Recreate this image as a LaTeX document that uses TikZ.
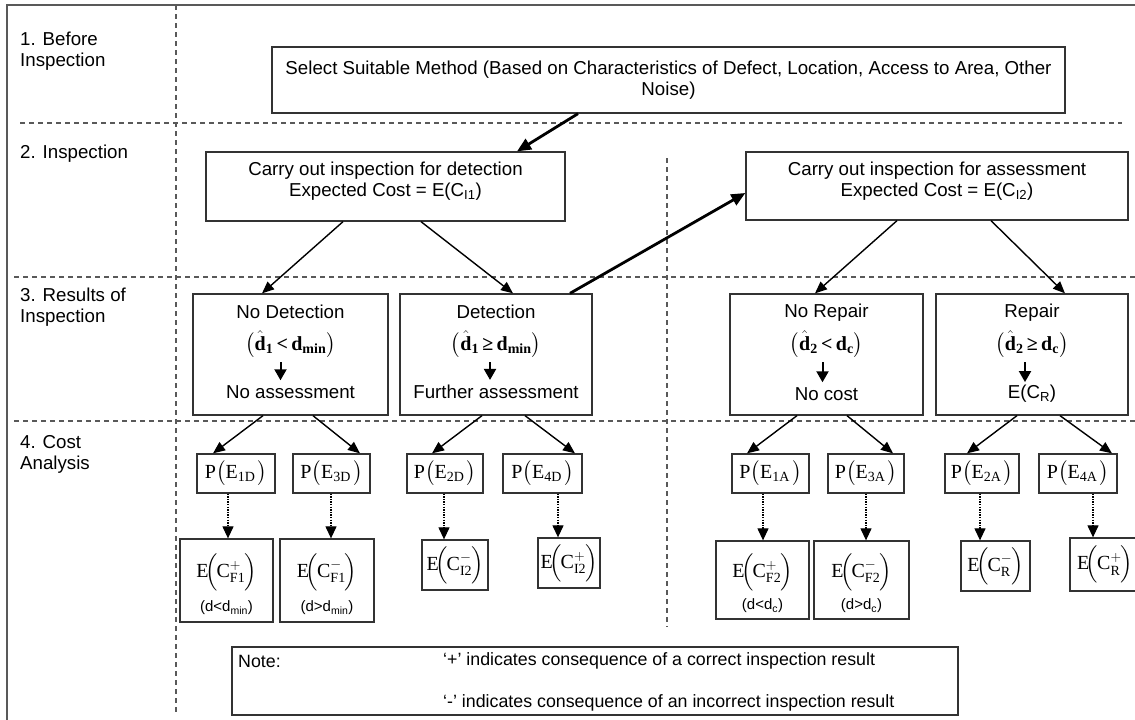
\RequirePackage{fix-cm}
\documentclass[tikz,border=0pt]{standalone}
\usepackage{amsmath}
\usepackage{fontspec}
\setmainfont{Liberation Sans}
\newfontfamily\timesface{Liberation Serif}
\usetikzlibrary{arrows.meta}
% serif pieces used inside the formulas
\newcommand\serifrm[1]{\text{\timesface\mdseries #1}}
\newcommand\serifbf[1]{\text{\timesface\bfseries #1}}
% parentheses a little taller than \bigl
\makeatletter
\newcommand\midlp{\mathopen{\bBigg@{1.15}(}}
\newcommand\midrp{\mathclose{\bBigg@{1.15})}}
\makeatother
% expected cost of a consequence: E(C^{sign}_{index})
\newcommand\ecost[2]{\serifrm{E}\mkern-3mu\Bigl(\mkern-1mu\serifrm{C}^{#1}_{\serifrm{#2}}\mkern-1mu\Bigr)}
\definecolor{framegray}{gray}{0.35}
\definecolor{linegray}{gray}{0.2}

\tikzset{
  box/.style={draw=linegray, line width=1.3pt, inner sep=0pt, align=center},
  txt/.style={inner sep=0pt, align=center},
  mth/.style={inner sep=0pt, font=\fontsize{20}{24}\selectfont},
  lab/.style={inner sep=0pt, align=left, anchor=north west},
  small/.style={inner sep=0pt, font=\fontsize{15}{17}\selectfont},
  notetxt/.style={inner sep=0pt, anchor=west, font=\fontsize{17.8}{20}\selectfont},
  sep/.style={framegray, line width=1.2pt, dash pattern=on 5pt off 4pt},
  arr/.style={-{Triangle[length=12pt,width=10pt]}, line width=1.4pt, black},
  fatarr/.style={-{Triangle[length=14pt,width=12pt]}, line width=2.8pt, black},
  inarr/.style={-{Triangle[length=11pt,width=12pt]}, line width=2pt, black},
  dotarr/.style={-{Triangle[length=12pt,width=11pt]}, line width=1.2pt, black,
                 dash pattern=on 1.3pt off 1.3pt},
}

\begin{document}
\begin{tikzpicture}[x=1pt, y=-1pt, font=\fontsize{18.7}{21}\selectfont]
\useasboundingbox (0,0) rectangle (1135,720);

% frame and band separators
\draw[framegray, line width=1.4pt] (7,720) -- (7,5) -- (1135,5);
\draw[sep] (176,5) -- (176,714);
\draw[sep] (20,123) -- (1122,123);
\draw[sep] (14,277) -- (1135,277);
\draw[sep] (14,421) -- (1135,421);
\draw[sep] (667,158) -- (667,627);

% stage labels
\node[lab] (s1) at (20,32)  {1. Before\\Inspection};
\node[lab] (s2) at (20,145) {2. Inspection};
\node[lab] (s3) at (20,288) {3. Results of\\Inspection};
\node[lab] (s4) at (20,435) {4. Cost\\Analysis};

% stage 1
\node[box, minimum width=793, minimum height=66] (sel) at (668.5,80)
  {Select Suitable Method (Based on Characteristics of Defect, Location, Access to Area, Other\\Noise)};

% stage 2
\node[box, minimum width=359, minimum height=69] (det) at (385.5,186.5) {};
\node[txt] (dett) at (385.5,181)
  {Carry out inspection for detection\\Expected Cost = E(C\textsubscript{I1})};
\node[box, minimum width=382, minimum height=68] (ass) at (937,186) {};
\node[txt] (asst) at (937,181)
  {Carry out inspection for assessment\\Expected Cost = E(C\textsubscript{I2})};

% stage 3: result boxes
\node[box, minimum width=195, minimum height=121] (r1) at (290.5,354.5) {};
\node[box, minimum width=192, minimum height=121] (r2) at (496,354.5) {};
\node[box, minimum width=193, minimum height=121] (r3) at (826.5,354.5) {};
\node[box, minimum width=192, minimum height=121] (r4) at (1032,354.5) {};

\node[txt] (r1a) at (290.5,312) {No Detection};
\node[mth] (r1m) at (290.5,345)
  {$\midlp\hat{\serifbf{d}}_{\serifbf{1}}\,\serifbf{<}\,\serifbf{d}_{\serifbf{min}}\midrp$};
\node[txt] (r1b) at (290.5,392) {No assessment};

\node[txt] (r2a) at (496,312) {Detection};
\node[mth] (r2m) at (496,345)
  {$\midlp\hat{\serifbf{d}}_{\serifbf{1}}\,\serifbf{≥}\,\serifbf{d}_{\serifbf{min}}\midrp$};
\node[txt] (r2b) at (496,392) {Further assessment};

\node[txt] (r3a) at (826.5,313) {No Repair};
\node[mth] (r3m) at (826.5,345)
  {$\midlp\hat{\serifbf{d}}_{\serifbf{2}}\,\serifbf{<}\,\serifbf{d}_{\serifbf{c}}\midrp$};
\node[txt] (r3b) at (826.5,394) {No cost};

\node[txt] (r4a) at (1032,313) {Repair};
\node[mth] (r4m) at (1032,345)
  {$\midlp\hat{\serifbf{d}}_{\serifbf{2}}\,\serifbf{≥}\,\serifbf{d}_{\serifbf{c}}\midrp$};
\node[txt] (r4b) at (1032,394) {E(C\textsubscript{R})};

\draw[inarr] ([xshift=-10,yshift=-3]r1m.south) -- ([xshift=-10,yshift=5]r1b.north);
\draw[inarr] ([xshift=-6,yshift=-3]r2m.south)  -- ([xshift=-6,yshift=5]r2b.north);
\draw[inarr] ([xshift=-4,yshift=-3]r3m.south)  -- ([xshift=-4,yshift=5]r3b.north);
\draw[inarr] ([xshift=-7,yshift=-3]r4m.south)  -- ([xshift=-7,yshift=3]r4b.north);

% stage 4: probabilities
\node[box, mth, minimum width=78, minimum height=39] (p1d) at (236,473.5)
  {$\serifrm{P}\bigl(\serifrm{E}_{\serifrm{1D}}\mkern2mu\bigr)$};
\node[box, mth, minimum width=77, minimum height=39] (p3d) at (331.5,473.5)
  {$\serifrm{P}\bigl(\serifrm{E}_{\serifrm{3D}}\mkern2mu\bigr)$};
\node[box, mth, minimum width=76, minimum height=39] (p2d) at (445,473.5)
  {$\serifrm{P}\bigl(\serifrm{E}_{\serifrm{2D}}\mkern2mu\bigr)$};
\node[box, mth, minimum width=79, minimum height=39] (p4d) at (542.5,473.5)
  {$\serifrm{P}\bigl(\serifrm{E}_{\serifrm{4D}}\mkern2mu\bigr)$};
\node[box, mth, minimum width=77, minimum height=39] (p1a) at (770.5,473.5)
  {$\serifrm{P}\bigl(\serifrm{E}_{\serifrm{1A}}\mkern2mu\bigr)$};
\node[box, mth, minimum width=76, minimum height=39] (p3a) at (866,473.5)
  {$\serifrm{P}\bigl(\serifrm{E}_{\serifrm{3A}}\mkern2mu\bigr)$};
\node[box, mth, minimum width=74, minimum height=39] (p2a) at (982,473.5)
  {$\serifrm{P}\bigl(\serifrm{E}_{\serifrm{2A}}\mkern2mu\bigr)$};
\node[box, mth, minimum width=78, minimum height=39] (p4a) at (1078,473.5)
  {$\serifrm{P}\bigl(\serifrm{E}_{\serifrm{4A}}\mkern2mu\bigr)$};

% stage 4: expected consequence costs
\node[box, minimum width=93, minimum height=83] (e1) at (226.5,580.5) {};
\node[mth] (e1m) at (226.5,572) {$\ecost{+}{F1}$};
\node[small] (e1s) at (226.5,608) {(d<d\textsubscript{min})};

\node[box, minimum width=94, minimum height=83] (e2) at (327,580.5) {};
\node[mth] (e2m) at (327,572) {$\ecost{-}{F1}$};
\node[small] (e2s) at (327,608) {(d>d\textsubscript{min})};

\node[box, mth, minimum width=66, minimum height=50] (e3) at (455,565) {$\ecost{-}{I2}$};
\node[box, mth, minimum width=62, minimum height=50] (e4) at (569,563) {$\ecost{+}{I2}$};

\node[box, minimum width=93, minimum height=78] (e5) at (762.5,580) {};
\node[mth] (e5m) at (762.5,572) {$\ecost{+}{F2}$};
\node[small] (e5s) at (762.5,606) {(d<d\textsubscript{c})};

\node[box, minimum width=95, minimum height=78] (e6) at (861.5,580) {};
\node[mth] (e6m) at (861.5,572) {$\ecost{-}{F2}$};
\node[small] (e6s) at (861.5,606) {(d>d\textsubscript{c})};

\node[box, mth, minimum width=69, minimum height=50] (e7) at (995.5,566) {$\ecost{-}{R}$};
\node[box, mth, minimum width=70, minimum height=53] (e8) at (1105,564.5) {$\ecost{+}{R}$};

% note
\node[box, minimum width=726, minimum height=68] (note) at (595,681) {};
\node[notetxt] (n0) at (238,661) {Note:};
\node[notetxt] (n1) at (443,661) {‘+’ indicates consequence of a correct inspection result};
\node[notetxt] (n2) at (443,703) {‘-’ indicates consequence of an incorrect inspection result};

% main flow
\draw[fatarr] ([xshift=-90.5]sel.south) -- ([xshift=131.5]det.north);
\draw[fatarr] ([xshift=74]r2.north) -- ([yshift=-7]ass.west);

\draw[arr] ([xshift=-42.5]det.south) -- ([xshift=-28.5]r1.north);
\draw[arr] ([xshift=35.5]det.south)  -- ([xshift=17]r2.north);
\draw[arr] ([xshift=-40]ass.south)   -- ([xshift=-11.5]r3.north);
\draw[arr] ([xshift=54]ass.south)    -- ([xshift=33]r4.north);

\draw[arr] ([xshift=-27.5]r1.south) -- ([xshift=-23]p1d.north);
\draw[arr] ([xshift=22.5]r1.south)  -- ([xshift=28.5]p3d.north);
\draw[arr] ([xshift=-14]r2.south)   -- ([xshift=-13]p2d.north);
\draw[arr] ([xshift=29]r2.south)    -- ([xshift=32.5]p4d.north);
\draw[arr] ([xshift=-29.5]r3.south) -- ([xshift=-23.5]p1a.north);
\draw[arr] ([xshift=20.5]r3.south)  -- ([xshift=27]p3a.north);
\draw[arr] ([xshift=-15]r4.south)   -- ([xshift=-15]p2a.north);
\draw[arr] ([xshift=28]r4.south)    -- ([xshift=34]p4a.north);

% probability to consequence
\draw[dotarr] ([xshift=-8]p1d.south)   -- ([xshift=-8]p1d.south |- e1.north);
\draw[dotarr] ([xshift=-0.5]p3d.south) -- ([xshift=-0.5]p3d.south |- e2.north);
\draw[dotarr] ([xshift=-1]p2d.south)   -- ([xshift=-1]p2d.south |- e3.north);
\draw[dotarr] ([xshift=15.5]p4d.south) -- ([xshift=15.5]p4d.south |- e4.north);
\draw[dotarr] ([xshift=-7.5]p1a.south) -- ([xshift=-7.5]p1a.south |- e5.north);
\draw[dotarr] ([xshift=0]p3a.south)    -- ([xshift=0]p3a.south |- e6.north);
\draw[dotarr] ([xshift=-2]p2a.south)   -- ([xshift=-2]p2a.south |- e7.north);
\draw[dotarr] ([xshift=15]p4a.south)   -- ([xshift=15]p4a.south |- e8.north);
\end{tikzpicture}
\end{document}
